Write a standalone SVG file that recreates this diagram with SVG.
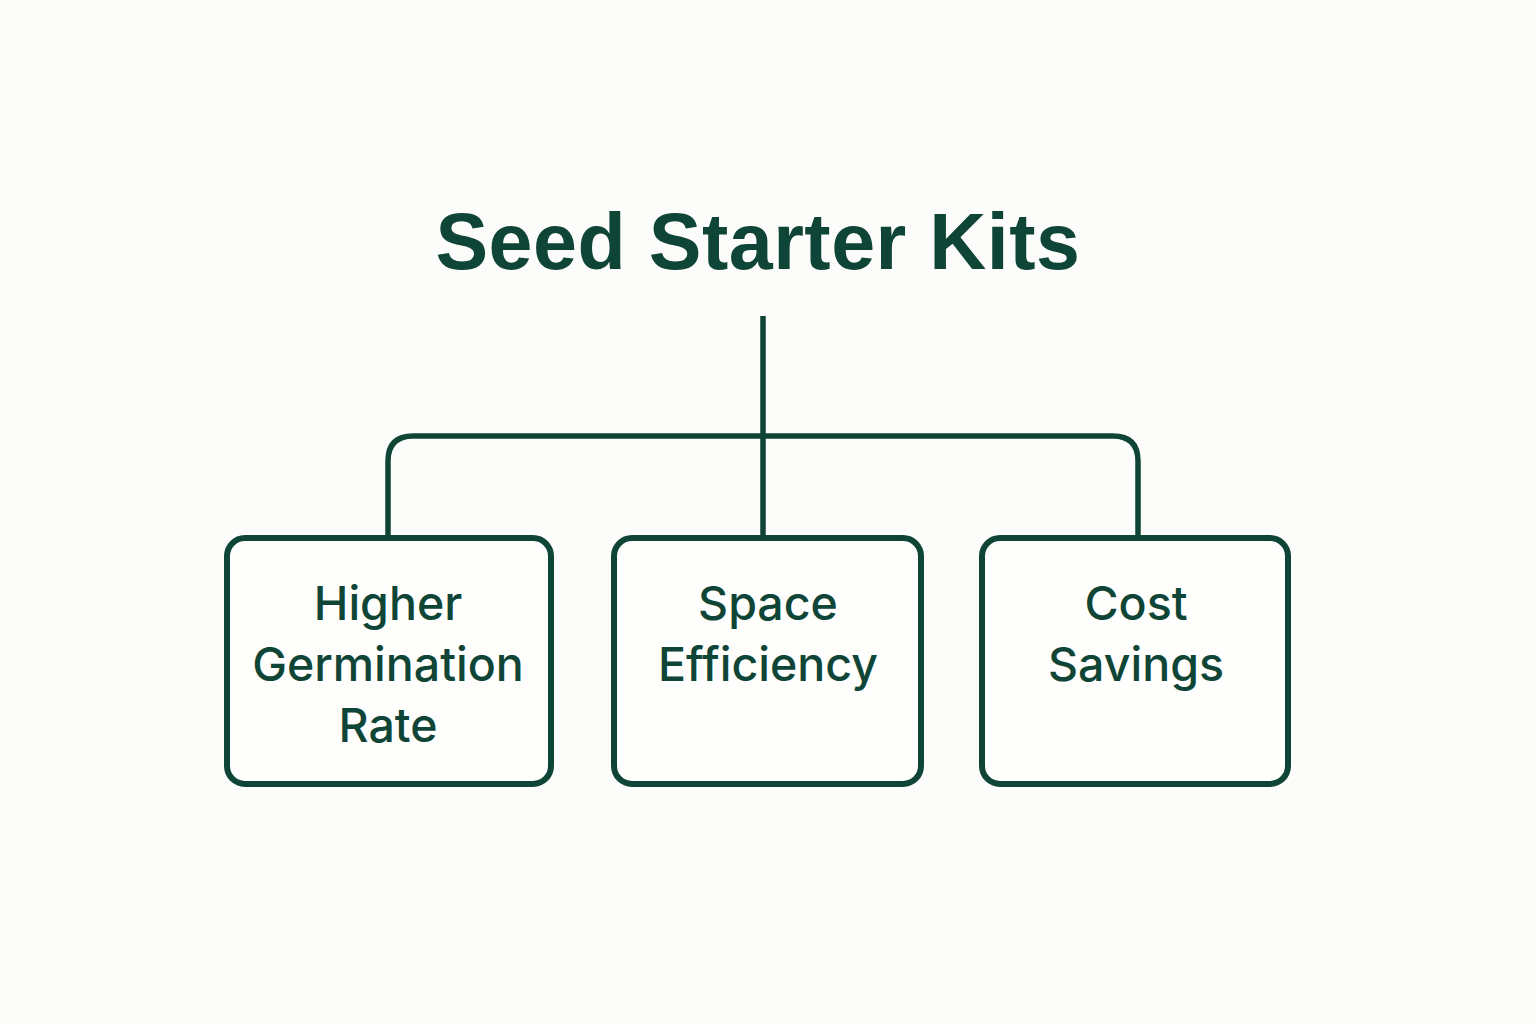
<svg xmlns="http://www.w3.org/2000/svg" width="1536" height="1024" viewBox="0 0 1536 1024">
<style>
.box{fill:#fefefd;stroke:#0f4536;stroke-width:6}
.conn{fill:none;stroke:#0f4536;stroke-width:5.5}
.lbl{font-family:Inter,"Liberation Sans",sans-serif;font-size:46.5px;font-weight:500;fill:#0f4536;text-anchor:middle}
.title{font-family:"Liberation Sans",Arial,sans-serif;font-weight:bold;font-size:79px;letter-spacing:0.5px;fill:#0f4536;text-anchor:middle}
</style>
<rect width="1536" height="1024" fill="#fcfcfa"/>
<g id="title"><text class="title" x="758" y="269">Seed Starter Kits</text></g>
<g id="connectors">
<path class="conn" d="M763 316 V537"/>
<path class="conn" d="M388 537 V461 Q388 436 413 436 H1113 Q1138 436 1138 461 V537"/>
</g>
<g id="node-germination">
<rect class="box" x="227" y="538" width="324" height="246" rx="18"/>
<text class="lbl" x="388" y="620">Higher</text>
<text class="lbl" x="388" y="681">Germination</text>
<text class="lbl" x="388" y="742">Rate</text>
</g>
<g id="node-space">
<rect class="box" x="614" y="538" width="307" height="246" rx="18"/>
<text class="lbl" x="768" y="620">Space</text>
<text class="lbl" x="768" y="681">Efficiency</text>
</g>
<g id="node-cost">
<rect class="box" x="982" y="538" width="306" height="246" rx="18"/>
<text class="lbl" x="1136" y="620">Cost</text>
<text class="lbl" x="1136" y="681">Savings</text>
</g>
</svg>
